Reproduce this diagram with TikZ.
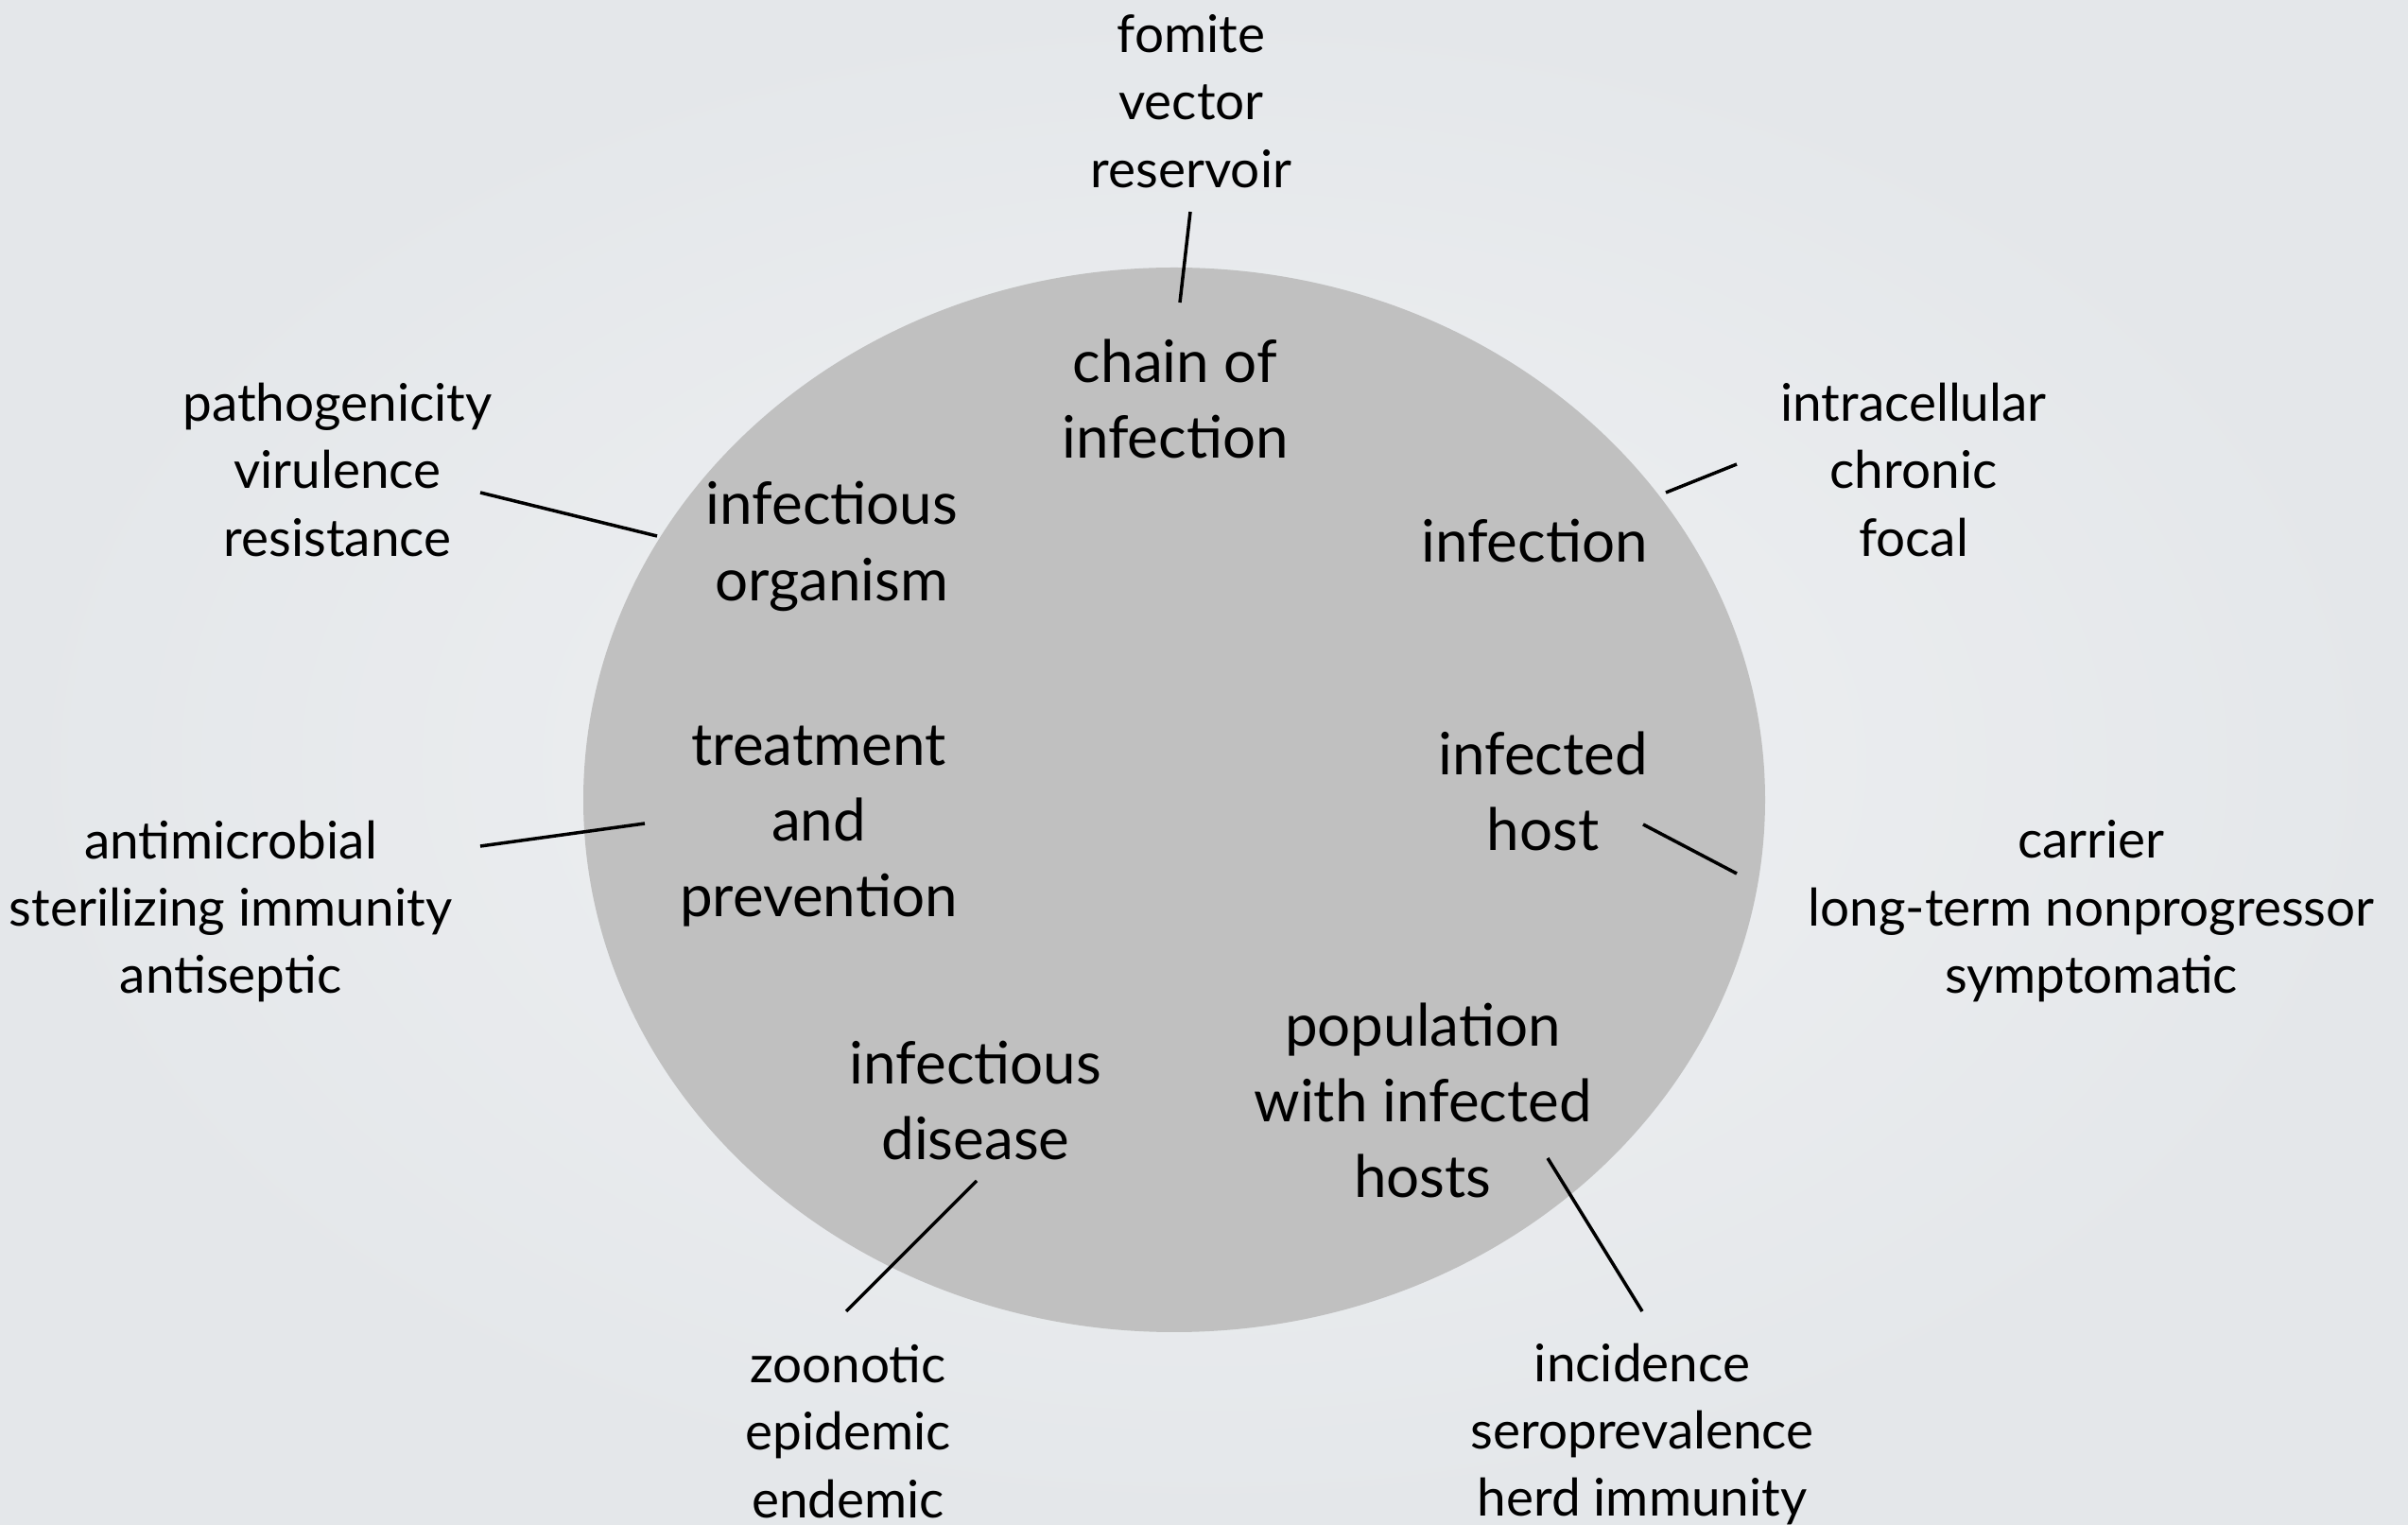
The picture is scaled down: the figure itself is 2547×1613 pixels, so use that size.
\documentclass[tikz,border=0pt]{standalone}
\usepackage{fontspec}
\setmainfont{Lato}
\usepackage{xcolor}
\usepackage{tikz}
\usetikzlibrary{positioning}

\definecolor{bgin}{HTML}{F0F1F3}
\definecolor{bgout}{HTML}{E4E7EA}
\definecolor{disc}{HTML}{C0C0C0}

\begin{document}
\begin{tikzpicture}[
  x=0.01cm, y=-0.01cm,
  inner/.style={align=center, inner sep=0pt,
                font=\fontsize{17.6}{22.8}\selectfont},
  outer/.style={align=center, inner sep=0pt,
                font=\fontsize{15.6}{20.3}\selectfont},
  ln/.style={line width=1pt},
]
\useasboundingbox (0,0) rectangle (2547,1613);
\shade[inner color=bgin, outer color=bgout] (0,0) rectangle (2547,1613);
\fill[disc] (1242,846) ellipse [x radius=625, y radius=563];

% topics inside the disc
\node[inner] (chain) at (1243,422)  {chain of\\infection};
\node[inner] (organ) at (880,578)   {infectious\\organism};
\node[inner] (infec) at (1623,572)  {infection};
\node[inner] (treat) at (866,874)   {treatment\\and\\prevention};
\node[inner] (ihost) at (1632,837)  {infected\\host};
\node[inner] (disea) at (1032,1164) {infectious\\disease};
\node[inner] (popul) at (1505,1164) {population\\with infected\\hosts};

% terms outside
\node[outer] (fomite) at (1260,107) {fomite\\vector\\reservoir};
\node[outer] (patho)  at (357,497)  {pathogenicity\\virulence\\resistance};
\node[outer] (intra)  at (2024,497) {intracellular\\chronic\\focal};
\node[outer] (antim)  at (244,964)  {antimicrobial\\sterilizing immunity\\antiseptic};
\node[outer] (carri)  at (2212,964) {carrier\\long-term nonprogressor\\symptomatic};
\node[outer] (zoono)  at (897,1514) {zoonotic\\epidemic\\endemic};
\node[outer] (incid)  at (1737,1517) {incidence\\seroprevalence\\herd immunity};

% ends of the ticks
\coordinate (fomite-e) at (1259,224);  \coordinate (chain-e) at (1248,320);
\coordinate (patho-e)  at (508,521);   \coordinate (organ-e) at (695,567);
\coordinate (intra-e)  at (1837,491);  \coordinate (infec-e) at (1762,521);
\coordinate (antim-e)  at (508,895);   \coordinate (treat-e) at (682,871);
\coordinate (carri-e)  at (1837,924);  \coordinate (ihost-e) at (1738,872);
\coordinate (zoono-e)  at (895,1387);  \coordinate (disea-e) at (1033,1249);
\coordinate (incid-e)  at (1737,1387); \coordinate (popul-e) at (1637,1225);

\foreach \a/\b in {fomite-e/chain-e, patho-e/organ-e, intra-e/infec-e,
                   antim-e/treat-e, carri-e/ihost-e, zoono-e/disea-e,
                   incid-e/popul-e}
  \draw[ln] (\a) -- (\b);
\end{tikzpicture}
\end{document}
